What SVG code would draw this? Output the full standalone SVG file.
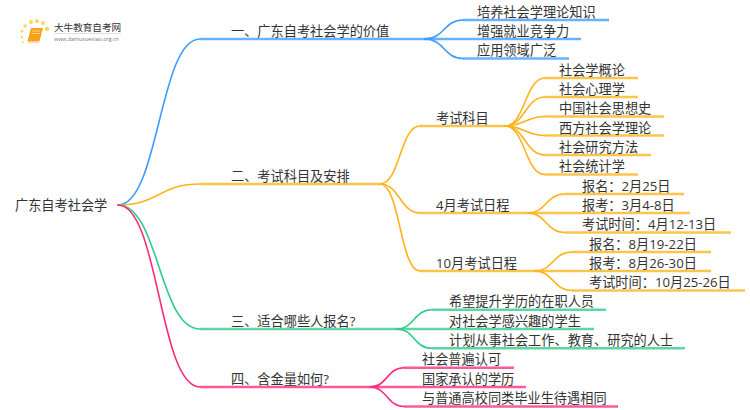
<svg xmlns="http://www.w3.org/2000/svg" width="750" height="410" viewBox="0 0 750 410">
<style>
text{font-family:"Open Sans","Noto Sans CJK SC",sans-serif;font-size:13.200px;fill:#333}
path{fill:none;stroke-width:1.6;stroke-linecap:round}
.b path{stroke:#3d9bff}.o path{stroke:#ffb31a}.g path{stroke:#2ecb8b}.p path{stroke:#ff2a7f}
.b path.l,.o path.l,.g path.l,.p path.l{stroke-width:2.400;stroke-opacity:.78;stroke-linecap:butt}
</style>
<rect width="750" height="410" fill="#fff"/>
<g id="connectors">
<g class="b">
<path d="M118 205C159 205 159 39 200 39"/><path class="l" d="M200 39H427"/>
<path d="M425 39C444 39 444 20 463 20"/><path d="M425 39C444 39 444 58.500 463 58.500"/>
<path class="l" d="M463 20H609"/><path class="l" d="M425 39H581"/><path class="l" d="M463 58.500H569"/>
</g>
<g class="o">
<path d="M118 205C159 205 159 184 200 184"/><path class="l" d="M200 184H380"/>
<path d="M380 184C400 184 400 126 420 126"/><path d="M380 184C400 184 400 213 420 213"/><path d="M380 184C400 184 400 271 420 271"/>
<path class="l" d="M420 126H505"/><path class="l" d="M420 213H528"/><path class="l" d="M420 271H535"/>
<path d="M505 126C525 126 525 78 545 78"/><path d="M505 126C525 126 525 97 545 97"/><path d="M505 126C525 126 525 116.500 545 116.500"/><path d="M505 126C525 126 525 135.500 545 135.500"/><path d="M505 126C525 126 525 155 545 155"/><path d="M505 126C525 126 525 174.500 545 174.500"/>
<path class="l" d="M545 78H638"/><path class="l" d="M545 97H638"/><path class="l" d="M545 116.500H664"/><path class="l" d="M545 135.500H664"/><path class="l" d="M545 155H651"/><path class="l" d="M545 174.500H638"/>
<path d="M528 213C546 213 546 194 565 194"/><path d="M528 213C546 213 546 232.500 565 232.500"/>
<path class="l" d="M565 194H684"/><path class="l" d="M528 213H690"/><path class="l" d="M565 232.500H731"/>
<path d="M535 271C553 271 553 252 572 252"/><path d="M535 271C553 271 553 290.500 572 290.500"/>
<path class="l" d="M572 252H711"/><path class="l" d="M535 271H711"/><path class="l" d="M572 290.500H745"/>
</g>
<g class="g">
<path d="M118 205C159 205 159 329 200 329"/><path class="l" d="M200 329H397"/>
<path d="M397 329C414 329 414 309.700 432 309.700"/><path d="M397 329C414 329 414 348.300 432 348.300"/>
<path class="l" d="M432 309.700H606"/><path class="l" d="M397 329H594"/><path class="l" d="M432 348.300H685"/>
</g>
<g class="p">
<path d="M118 205C159 205 159 387 200 387"/><path class="l" d="M200 387H370"/>
<path d="M370 387C387 387 387 367.700 404 367.700"/><path d="M370 387C387 387 387 406.500 404 406.500"/>
<path class="l" d="M404 367.700H514"/><path class="l" d="M370 387H526"/><path class="l" d="M404 406.500H618"/>
</g>
</g>
<g id="logo">
<g fill="#ffd56b"><circle cx="25" cy="26" r="1.800"/><circle cx="31" cy="22" r="2"/><circle cx="37" cy="21" r="2"/><circle cx="43" cy="23" r="2"/><circle cx="47" cy="29" r="2.200"/><circle cx="22" cy="31" r="1.500"/><circle cx="22" cy="37" r="1.200"/><circle cx="23" cy="42" r="1"/></g>
<polygon points="31,28 43,28 39.500,41 27.500,41" fill="#f9a11b"/>
<polygon points="27.500,41 39.500,41 39,43 28,43" fill="#fdd9a0"/>
<path d="M33 31H40M32.500 33.500H39.500" style="stroke:#ffe2a8;stroke-width:.8"/>
<text x="54" y="31" style="font-size:9.600px">大牛教育自考网</text>
<rect x="54" y="33" width="67" height="0.600" fill="#ccc"/>
<text x="54" y="41" style="font-size:5.400px;fill:#777">www.daniuxuexiao.org.cn</text>
</g>
<g id="root"><text x="15" y="210">广东自考社会学</text></g>
<g id="n1"><text x="231" y="36">一、广东自考社会学的价值</text></g>
<g id="n1-1"><text x="477" y="17">培养社会学理论知识</text></g>
<g id="n1-2"><text x="477" y="36">增强就业竞争力</text></g>
<g id="n1-3"><text x="477" y="55">应用领域广泛</text></g>
<g id="n2"><text x="231" y="181">二、考试科目及安排</text></g>
<g id="n2a"><text x="436" y="123">考试科目</text></g>
<g id="n2a1"><text x="559" y="75">社会学概论</text></g>
<g id="n2a2"><text x="559" y="94">社会心理学</text></g>
<g id="n2a3"><text x="559" y="113">中国社会思想史</text></g>
<g id="n2a4"><text x="559" y="133">西方社会学理论</text></g>
<g id="n2a5"><text x="559" y="152">社会研究方法</text></g>
<g id="n2a6"><text x="559" y="171">社会统计学</text></g>
<g id="n2b"><text x="436" y="210">4月考试日程</text></g>
<g id="n2b1"><text x="582" y="191">报名：2月25日</text></g>
<g id="n2b2"><text x="582" y="210">报考：3月4-8日</text></g>
<g id="n2b3"><text x="582" y="229">考试时间：4月12-13日</text></g>
<g id="n2c"><text x="436" y="268">10月考试日程</text></g>
<g id="n2c1"><text x="589" y="249">报名：8月19-22日</text></g>
<g id="n2c2"><text x="589" y="268">报考：8月26-30日</text></g>
<g id="n2c3"><text x="589" y="287">考试时间：10月25-26日</text></g>
<g id="n3"><text x="231" y="326">三、适合哪些人报名?</text></g>
<g id="n3-1"><text x="449" y="306">希望提升学历的在职人员</text></g>
<g id="n3-2"><text x="449" y="326">对社会学感兴趣的学生</text></g>
<g id="n3-3"><text x="449" y="345">计划从事社会工作、教育、研究的人士</text></g>
<g id="n4"><text x="231" y="384">四、含金量如何?</text></g>
<g id="n4-1"><text x="422" y="364">社会普遍认可</text></g>
<g id="n4-2"><text x="422" y="384">国家承认的学历</text></g>
<g id="n4-3"><text x="422" y="403">与普通高校同类毕业生待遇相同</text></g>
</svg>
